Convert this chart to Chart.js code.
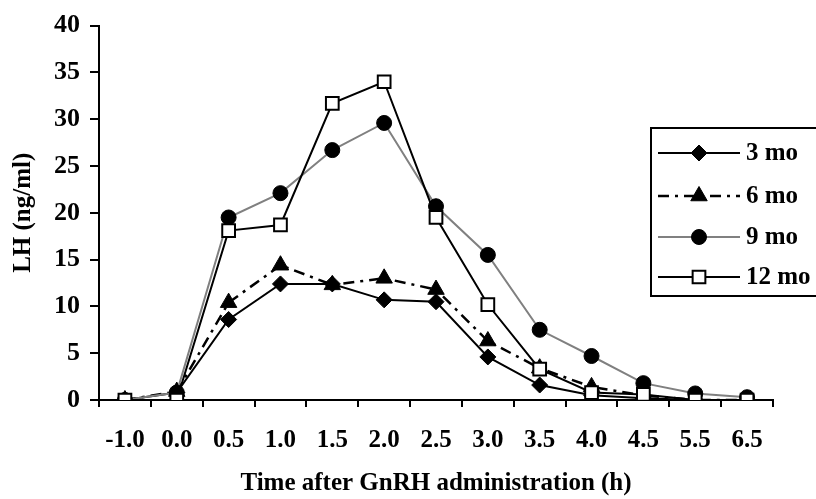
<!DOCTYPE html>
<html>
<head>
<meta charset="utf-8">
<script src="https://cdn.jsdelivr.net/npm/chart.js@4/dist/chart.umd.min.js"></script>
<style>
  html, body { margin: 0; padding: 0; background: #fff; }
  #wrap { width: 816px; height: 499px; position: relative; }
</style>
</head>
<body>
<div id="wrap"><canvas id="c" width="816" height="499"></canvas></div>
<script>
// ---- data ----
const timeLabels = ['-1.0','0.0','0.5','1.0','1.5','2.0','2.5','3.0','3.5','4.0','4.5','5.5','6.5'];
const seriesNames = ['3 mo','6 mo','9 mo','12 mo'];
const lh3mo  = [0, 0.8, 8.6, 12.4, 12.4, 10.7, 10.5, 4.6, 1.6, 0.5, 0.2, 0, 0];
const lh6mo  = [0, 0.9, 10.4, 14.4, 12.3, 13.0, 11.8, 6.3, 3.4, 1.4, 0.5, 0, 0];
const lh9mo  = [0, 0.8, 19.5, 22.1, 26.7, 29.6, 20.7, 15.5, 7.5, 4.7, 1.8, 0.7, 0.3];
const lh12mo = [0, 0, 18.1, 18.7, 31.7, 34.0, 19.5, 10.2, 3.3, 0.8, 0.6, 0, 0];
const yTicks = [0, 5, 10, 15, 20, 25, 30, 35, 40];
const xTitle = 'Time after GnRH administration (h)';
const yTitle = 'LH (ng/ml)';

const FONT = "'Liberation Serif', 'Times New Roman', serif";

const legendPlugin = {
  id: 'boxLegend',
  afterDraw(chart) {
    const ctx = chart.ctx;
    const boxL = 651, boxT = 128, boxR = 822, boxB = 296;
    ctx.save();
    ctx.fillStyle = '#fff';
    ctx.fillRect(boxL, boxT, boxR - boxL, boxB - boxT);
    ctx.strokeStyle = '#000';
    ctx.lineWidth = 2;
    ctx.strokeRect(boxL, boxT, boxR - boxL, boxB - boxT);
    const rows = [153, 196, 237, 277];
    chart.data.datasets.forEach((ds, i) => {
      const y = rows[i];
      ctx.save();
      ctx.strokeStyle = ds.borderColor;
      ctx.lineWidth = ds.borderWidth;
      ctx.setLineDash(ds.borderDash || []);
      ctx.beginPath();
      ctx.moveTo(658, y);
      ctx.lineTo(740, y);
      ctx.stroke();
      ctx.restore();
      ctx.save();
      ctx.fillStyle = ds.pointBackgroundColor;
      ctx.strokeStyle = ds.pointBorderColor;
      ctx.lineWidth = ds.pointBorderWidth;
      Chart.helpers.drawPoint(ctx, {
        pointStyle: ds.pointStyle, radius: ds.pointRadius, rotation: 0,
        borderWidth: ds.pointBorderWidth
      }, 699, y);
      ctx.restore();
      ctx.fillStyle = '#000';
      ctx.font = "bold 25px " + FONT;
      ctx.textBaseline = 'middle';
      ctx.textAlign = 'left';
      ctx.fillText(ds.label, 746, y + 1);
    });
    ctx.restore();
  }
};

new Chart(document.getElementById('c'), {
  type: 'line',
  data: {
    labels: timeLabels,
    datasets: [
      { label: seriesNames[0], data: lh3mo, borderColor: '#000', borderWidth: 2,
        pointStyle: 'rectRot', pointRadius: 8, pointBackgroundColor: '#000',
        pointBorderColor: '#000', pointBorderWidth: 1, order: 4, tension: 0 },
      { label: seriesNames[1], data: lh6mo, borderColor: '#000', borderWidth: 2.5,
        borderDash: [11, 6, 3, 6],
        pointStyle: 'triangle', pointRadius: 9.5, pointBackgroundColor: '#000',
        pointBorderColor: '#000', pointBorderWidth: 1, order: 3, tension: 0 },
      { label: seriesNames[2], data: lh9mo, borderColor: '#808080', borderWidth: 2,
        pointStyle: 'circle', pointRadius: 7.5, pointBackgroundColor: '#000',
        pointBorderColor: '#000', pointBorderWidth: 1, order: 2, tension: 0 },
      { label: seriesNames[3], data: lh12mo, borderColor: '#000', borderWidth: 2,
        pointStyle: 'rect', pointRadius: 9, pointBackgroundColor: '#fff',
        pointBorderColor: '#000', pointBorderWidth: 2, order: 1, tension: 0 }
    ]
  },
  options: {
    responsive: false,
    animation: false,
    events: [],
    layout: { padding: { top: 20, right: 43, left: 0, bottom: 0 } },
    plugins: { legend: { display: false }, tooltip: { enabled: false } },
    scales: {
      x: {
        type: 'category',
        offset: true,
        grid: { offset: true, drawOnChartArea: false, drawTicks: true, tickLength: 7,
                color: '#000', lineWidth: 2 },
        border: { display: true, color: '#000', width: 2 },
        ticks: { color: '#000', font: { family: FONT, size: 25, weight: 'bold' },
                 padding: 19, maxRotation: 0, autoSkip: false },
        title: { display: true, text: xTitle, color: '#000',
                 font: { family: FONT, size: 25, weight: 'bold', lineHeight: 1.2 },
                 padding: { top: 0, bottom: 0 } },
        afterFit(s) { s.height = 99; }
      },
      y: {
        min: 0, max: 40,
        afterBuildTicks(s) { s.ticks = yTicks.map(v => ({ value: v })); },
        grid: { drawOnChartArea: false, drawTicks: true, tickLength: 9,
                color: '#000', lineWidth: 2 },
        border: { display: true, color: '#000', width: 2 },
        ticks: { color: '#000', font: { family: FONT, size: 26, weight: 'bold' },
                 padding: 10 },
        title: { display: true, text: yTitle, color: '#000',
                 font: { family: FONT, size: 25, weight: 'bold', lineHeight: 1.2 },
                 padding: { top: 9, bottom: 0 } },
        afterFit(s) { s.width = 99; }
      }
    }
  },
  plugins: [legendPlugin]
});
</script>
</body>
</html>
